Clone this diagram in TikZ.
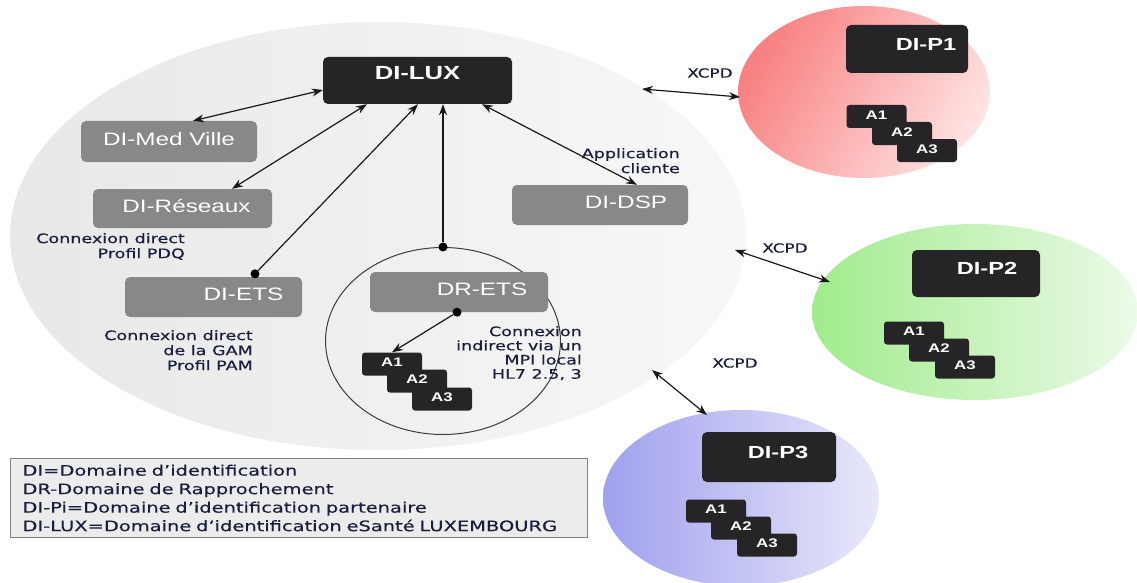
\documentclass[tikz,border=0pt]{standalone}
\usepackage{fontspec}
\usetikzlibrary{shapes.geometric,arrows.meta,calc}
\newfontfamily\boxfont[FakeStretch=1.35]{Liberation Sans}
\newfontfamily\annfont[FakeStretch=1.35,FakeBold=0.4]{DejaVu Sans}
\newfontfamily\legfont[FakeStretch=1.35,FakeBold=0.2]{DejaVu Sans}
\definecolor{annc}{RGB}{24,30,60}
\definecolor{darkbox}{RGB}{38,36,38}
\definecolor{greybox}{RGB}{136,136,136}
\definecolor{legfill}{RGB}{236,236,236}
\definecolor{arrc}{RGB}{25,25,25}
\begin{document}
\begin{tikzpicture}[x=1pt,y=-1pt,
  bigell/.style={ellipse, inner sep=0pt, draw=none},
  darkb/.style={rectangle, rounded corners=5pt, fill=darkbox, inner sep=0pt},
  greyb/.style={rectangle, rounded corners=5pt, fill=greybox, inner sep=0pt},
  boldtxt/.style={text=white, font=\boxfont\bfseries\fontsize{17.5}{20}\selectfont, inner sep=0pt},
  luxtxt/.style={text=white, font=\boxfont\bfseries\fontsize{19}{22}\selectfont, inner sep=0pt},
  regtxt/.style={text=white, font=\boxfont\fontsize{18}{20}\selectfont, inner sep=0pt},
  abox/.style={rectangle, rounded corners=3pt, fill=darkbox, text=white,
    font=\boxfont\bfseries\fontsize{12.5}{14}\selectfont, minimum width=60pt,
    minimum height=23pt, inner sep=0pt, text depth=3pt},
  ann/.style={font=\annfont\fontsize{13}{15}\selectfont, text=annc, align=right, inner sep=0pt, anchor=north east},
  xcpd/.style={font=\annfont\fontsize{12.5}{15}\selectfont, text=annc, inner sep=0pt},
  dbl/.style={{Stealth[length=11pt,width=8pt]}-{Stealth[length=11pt,width=8pt]}, line width=1.2pt, draw=arrc},
  sgl/.style={-{Stealth[length=11pt,width=8pt]}, line width=1.2pt, draw=arrc},
  dotc/.style={circle, fill=black, inner sep=0pt, minimum size=9pt},
]
\useasboundingbox (0,0) rectangle (1137,583);
\clip (0,0) rectangle (1137,583);

% ---------- large ellipse ----------
\node[bigell, left color=black!9, right color=black!3, minimum width=736pt, minimum height=428pt] (big) at (378,236) {};

% ---------- partner ellipses ----------
\node[bigell, left color={rgb,255:red,248;green,128;blue,128}, right color={rgb,255:red,255;green,226;blue,226}, shading angle=60, minimum width=252pt, minimum height=172pt] (p1e) at (864,92) {};
\node[bigell, left color={rgb,255:red,160;green,236;blue,140}, right color={rgb,255:red,236;green,250;blue,232}, minimum width=326pt, minimum height=176pt] (p2e) at (975,312) {};
\node[bigell, left color={rgb,255:red,160;green,160;blue,238}, right color={rgb,255:red,232;green,232;blue,250}, minimum width=276pt, minimum height=176pt] (p3e) at (741,498) {};

% ---------- DR-ETS circle ----------
\node[ellipse, draw={rgb,255:red,60;green,60;blue,60}, line width=1pt, inner sep=0pt, minimum width=235pt, minimum height=187pt] (drc) at (443,341) {};

% ---------- boxes ----------
\node[darkb, minimum width=189pt, minimum height=47pt] (lux) at (417.5,80.5) {};
\node[luxtxt] (luxT) at ([yshift=7pt]lux.center) {DI-LUX};

\node[greyb, minimum width=176pt, minimum height=41pt] (med) at (169,141.5) {};
\node[regtxt] (medT) at ([yshift=2.5pt]med.center) {DI-Med Ville};

\node[greyb, minimum width=179pt, minimum height=39pt] (res) at (182.5,208.5) {};
\node[regtxt] (resT) at ([xshift=4pt,yshift=2.5pt]res.center) {DI-Réseaux};

\node[greyb, minimum width=177pt, minimum height=40pt] (ets) at (213.5,297) {};
\node[regtxt] (etsT) at ([xshift=30pt,yshift=3pt]ets.center) {DI-ETS};

\node[greyb, minimum width=176pt, minimum height=40pt] (dsp) at (600,205) {};
\node[regtxt] (dspT) at ([xshift=26pt,yshift=3pt]dsp.center) {DI-DSP};

\node[greyb, minimum width=178pt, minimum height=40pt] (drets) at (459,292) {};
\node[regtxt] (dretsT) at ([xshift=23pt,yshift=3pt]drets.center) {DR-ETS};

\node[darkb, minimum width=122pt, minimum height=48pt] (p1) at (907,49) {};
\node[boldtxt] (p1T) at ([xshift=19pt,yshift=5pt]p1.center) {DI-P1};

\node[darkb, minimum width=128pt, minimum height=47pt] (p2) at (976,273.5) {};
\node[boldtxt] (p2T) at ([xshift=11pt,yshift=5pt]p2.center) {DI-P2};

\node[darkb, minimum width=134pt, minimum height=50pt] (p3) at (769,457) {};
\node[boldtxt] (p3T) at ([xshift=9pt,yshift=5pt]p3.center) {DI-P3};

% ---------- A stacks ----------
\node[abox] (da1) at (392,364) {A1};
\node[abox] (da2) at (417,381) {A2};
\node[abox] (da3) at (442,399) {A3};

\node[abox] (pa1) at (876.5,116.5) {A1};
\node[abox] (pa2) at (902,133.5) {A2};
\node[abox] (pa3) at (927,150.5) {A3};

\node[abox] (qa1) at (914,333) {A1};
\node[abox] (qa2) at (939,350) {A2};
\node[abox] (qa3) at (965,367) {A3};

\node[abox] (ra1) at (716,511) {A1};
\node[abox] (ra2) at (741,528) {A2};
\node[abox] (ra3) at (767,545) {A3};

% ---------- dots ----------
\node[dotc] (etsdot) at ([xshift=41.5pt,yshift=3pt]ets.north) {};
\node[dotc] (drcdot) at (drc.north) {};
\node[dotc] (dretsdot) at ([xshift=-2pt]drets.south) {};

% ---------- connectors ----------
\draw[dbl] ([yshift=-9.5pt]lux.west) -- ([xshift=24pt]med.north);
\draw[dbl] ([xshift=-50.5pt]lux.south) -- ([xshift=49.5pt]res.north);
\draw[sgl] (etsdot) -- ([xshift=0.5pt]lux.south);
\draw[sgl] (drcdot) -- (drcdot |- lux.south);
\draw[dbl] ([xshift=64.5pt]lux.south) -- ([xshift=37pt]dsp.north);
\draw[sgl] (dretsdot) -- (da1.north);

\coordinate (x1a) at (642,89);
\coordinate (x1b) at (740,97);
\coordinate (x2a) at (735,250);
\coordinate (x2b) at (830,282);
\coordinate (x3a) at (652,370);
\coordinate (x3b) at (707,415);
\draw[dbl] (x1a) -- (x1b);
\draw[dbl] (x2a) -- (x2b);
\draw[dbl] (x3a) -- (x3b);

\node[xcpd] (xl1) at (710,73) {XCPD};
\node[xcpd] (xl2) at (785,248) {XCPD};
\node[xcpd] (xl3) at (735,363) {XCPD};

% ---------- annotations ----------
\node[ann] (ann1) at (185,233) {Connexion direct\\Profil PDQ};
\node[ann] (ann2) at (253,330) {Connexion direct\\de la GAM\\Profil PAM};
\node[ann, font=\annfont\fontsize{13}{14.2}\selectfont] (ann3) at (582,326) {Connexion\\indirect via un\\MPI local\\HL7 2.5, 3};
\node[ann] (ann4) at (680,148) {Application\\cliente};

% ---------- legend ----------
\node[rectangle, draw={rgb,255:red,130;green,130;blue,130}, line width=1pt, fill=legfill,
  anchor=north west, minimum width=577pt, minimum height=79pt, inner xsep=12pt, inner ysep=0pt,
  text width=553pt, align=left, text=annc, font=\legfont\fontsize{14.4}{18.5}\selectfont] (legend) at (10,458)
  {DI=Domaine d’identification\\DR-Domaine de Rapprochement\\DI-Pi=Domaine d’identification partenaire\\DI-LUX=Domaine d’identification eSanté LUXEMBOURG};
\end{tikzpicture}
\end{document}
